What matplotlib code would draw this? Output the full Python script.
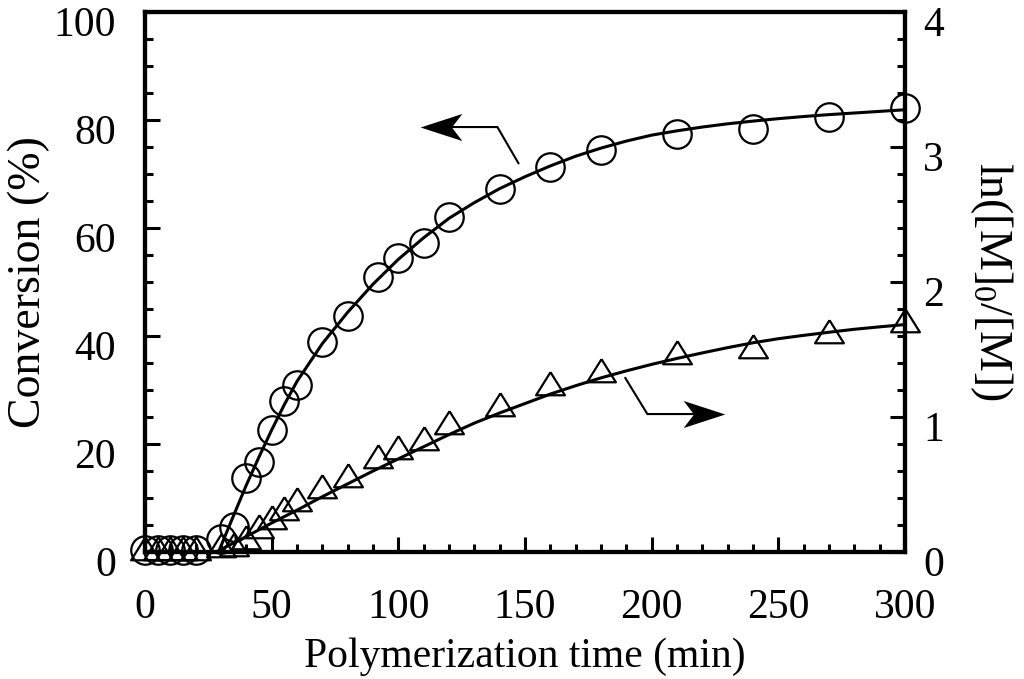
import numpy as np
import matplotlib
matplotlib.use("Agg")
import matplotlib.pyplot as plt
from matplotlib.ticker import MultipleLocator
from matplotlib.transforms import ScaledTranslation

plt.rcParams['font.family'] = ['Liberation Serif', 'DejaVu Serif']
plt.rcParams['mathtext.fontset'] = 'custom'
plt.rcParams['mathtext.rm'] = 'Liberation Serif'
plt.rcParams['mathtext.default'] = 'regular'

# ---- data ----
time_min = [0, 5, 10, 15, 20, 30, 35, 40, 45, 50, 55, 60, 70, 80, 92, 100, 110,
            120, 140, 160, 180, 210, 240, 270, 300]
conversion = [0.4, 0.4, 0.4, 0.4, 0.4, 2.5, 4.6, 13.7, 16.7, 22.6, 28.0, 31.0,
              38.9, 43.7, 50.9, 54.4, 57.2, 62.0, 67.3, 71.3, 74.4, 77.5, 78.4,
              80.5, 82.2]
ln_ratio = [0.0, 0.0, 0.0, 0.0, 0.0, 0.02, 0.03, 0.08, 0.16, 0.23, 0.30, 0.36,
            0.46, 0.54, 0.68, 0.745, 0.815, 0.935, 1.07, 1.22, 1.32, 1.455, 1.50,
            1.607, 1.69]

# fitted curves
fit_t_conv = [0, 29, 35, 40, 45, 50, 55, 60, 70, 80, 90, 100, 110, 120, 130, 140,
              150, 160, 170, 180, 190, 200, 210, 220, 230, 240, 250, 260, 270,
              280, 290, 300]
fit_conv = [0, 0, 6.8, 12.4, 17.6, 22.6, 27.3, 31.6, 38.6, 44.4, 49.6, 54.2, 58.2,
            61.8, 64.7, 67.3, 69.5, 71.5, 73.3, 74.8, 76.1, 77.2, 78.0, 78.7, 79.3,
            79.8, 80.25, 80.65, 81.0, 81.3, 81.6, 81.9]
fit_t_ln = [0, 28, 40, 50, 60, 70, 80, 90, 100, 110, 120, 130, 140, 150, 160, 170,
            180, 190, 200, 210, 220, 230, 240, 250, 260, 270, 280, 290, 300]
fit_ln = [0, 0, 0.115, 0.215, 0.31, 0.41, 0.505, 0.60, 0.69, 0.78, 0.87, 0.955,
          1.03, 1.10, 1.17, 1.232, 1.29, 1.342, 1.39, 1.434, 1.475, 1.514, 1.55,
          1.58, 1.605, 1.628, 1.65, 1.668, 1.685]

# annotation arrows (axis pointers)
arrow_conv_t = [147.4, 139.1, 117.0]
arrow_conv_y = [72.0, 78.7, 78.7]
arrow_ln_t = [189.6, 198.3, 220.5]
arrow_ln_y = [1.289, 1.022, 1.022]

fig = plt.figure(figsize=(10.24, 6.79), dpi=100)
ax = fig.add_axes([0.1416, 0.187, 0.7422, 0.7953])
ax2 = ax.twinx()

FS = 30
FSL = 33
tri = [(0, 0.53), (-0.5, -0.27), (0.5, -0.27), (0, 0.53)]
head_left = [(-20, 0), (20, 13), (10, 0), (20, -13), (-20, 0)]
head_right = [(20, 0), (-20, 13), (-10, 0), (-20, -13), (20, 0)]

ax.plot(fit_t_conv, fit_conv, color='black', lw=2.2, zorder=3)
ax.plot(time_min, conversion, linestyle='none', marker='o', markersize=20.5,
        markerfacecolor='none', markeredgecolor='black', markeredgewidth=1.6,
        clip_on=False, zorder=4)
ax2.plot(fit_t_ln, fit_ln, color='black', lw=2.2, zorder=3)
ax2.plot(time_min, ln_ratio, linestyle='none', marker=tri, markersize=22,
         markerfacecolor='none', markeredgecolor='black', markeredgewidth=1.6,
         clip_on=False, zorder=4)

ax.set_xlim(0, 300)
ax.set_ylim(0, 100)
ax2.set_ylim(0, 4)

ax.xaxis.set_major_locator(MultipleLocator(50))
ax.xaxis.set_minor_locator(MultipleLocator(10))
ax.yaxis.set_major_locator(MultipleLocator(20))
ax.yaxis.set_minor_locator(MultipleLocator(5))
ax2.yaxis.set_major_locator(MultipleLocator(1))
ax2.yaxis.set_minor_locator(MultipleLocator(0.2))

for a in (ax, ax2):
    for s in a.spines.values():
        s.set_linewidth(3)
    a.tick_params(which='major', direction='in', length=11, width=2.2,
                  labelsize=FS)
    a.tick_params(which='minor', direction='in', length=6, width=2.2)
ax.tick_params(which='both', top=False, right=False)
ax.tick_params(axis='x', pad=26)
ax.tick_params(axis='y', pad=21)
ax2.tick_params(which='both', left=False, right=True)
ax2.tick_params(axis='y', pad=13)

ax.set_xlabel('Polymerization time (min)', fontsize=FS, labelpad=8)
ax.set_ylabel('Conversion (%)', fontsize=FSL, labelpad=2)
ax2.set_ylabel(r'ln([M]$_0$/[M])', fontsize=FSL, rotation=-90, labelpad=51)

# arrows indicating axes
ax.plot(arrow_conv_t, arrow_conv_y, color='black', lw=1.5, solid_joinstyle='miter')
ax.plot(arrow_conv_t[-1:], arrow_conv_y[-1:], linestyle='none', marker=head_left,
        markersize=30, color='black', markeredgewidth=0)
ax2.plot(arrow_ln_t, arrow_ln_y, color='black', lw=1.5, solid_joinstyle='miter')
ax2.plot(arrow_ln_t[-1:], arrow_ln_y[-1:], linestyle='none', marker=head_right,
         markersize=30, color='black', markeredgewidth=0)

# y tick labels sit slightly below their ticks in the original
off = ScaledTranslation(0, -0.09, fig.dpi_scale_trans)
for lab in ax.get_yticklabels() + ax2.get_yticklabels():
    lab.set_transform(lab.get_transform() + off)

fig.savefig('out.png', dpi=100, facecolor='white')
